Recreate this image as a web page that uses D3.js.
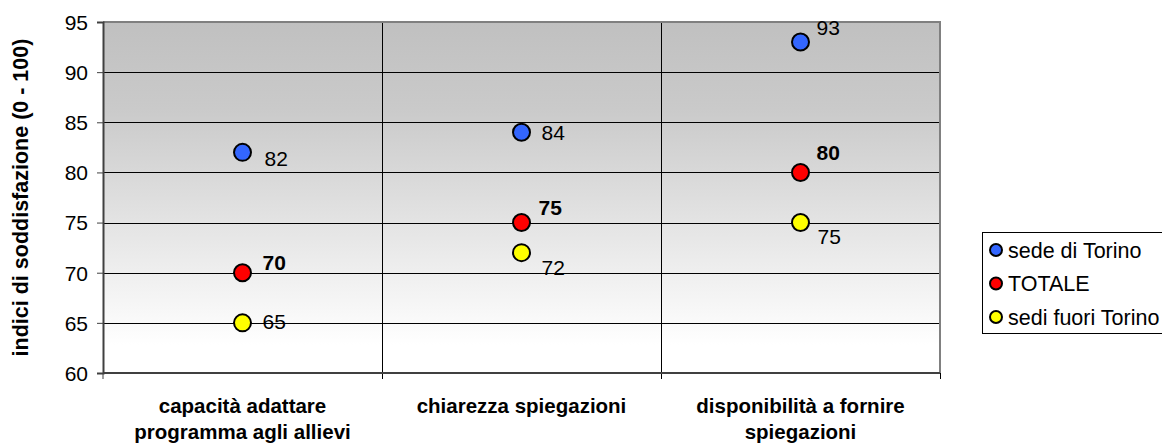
<!DOCTYPE html>
<html>
<head>
<meta charset="utf-8">
<script src="https://cdn.jsdelivr.net/npm/d3@7"></script>
<style>
  body { margin: 0; background: #fff; }
  text { font-family: "Liberation Sans", Arial, sans-serif; }
</style>
</head>
<body>
<div class="chart"></div>
<script>
// DATA ------------------------------
let categories = [
  ["capacità adattare", "programma agli allievi"],
  ["chiarezza spiegazioni"],
  ["disponibilità a fornire", "spiegazioni"]
];
let seriesNames = ["sede di Torino", "TOTALE", "sedi fuori Torino"];
let sedeTorino = [82, 84, 93];
let totale = [70, 75, 80];
let sediFuori = [65, 72, 75];
let yTicks = [60, 65, 70, 75, 80, 85, 90, 95];

let seriesColors = ["#3366ff", "#ff0000", "#ffff00"];
// label placement per series/category (dx, dy of baseline) like the excel sheet
let labelOffsets = [
  [[22, 14], [20, 8], [16, -7]],
  [[20, -3], [17, -8], [16, -12]],
  [[20, 6], [20, 22], [17, 21]]
];

let series = [sedeTorino, totale, sediFuori].map(function(vals, i) {
  return { name: seriesNames[i], color: seriesColors[i], values: vals, bold: i == 1 };
});

// CHART INIT ------------------------------
let margin = { top: 22, right: 222, bottom: 70, left: 103 },
  width = 1162 - margin.left - margin.right,
  height = 443 - margin.top - margin.bottom;

let root = d3.select(".chart")
  .append("svg")
  .attr("width", 1162)
  .attr("height", 443);

let svg = root.append("g")
  .attr("transform", "translate(" + margin.left + "," + margin.top + ")");

let grad = root.append("defs").append("linearGradient")
  .attr("id", "bg")
  .attr("x1", 0).attr("y1", 0).attr("x2", 0).attr("y2", 1);
grad.append("stop").attr("offset", "0%").attr("stop-color", "#c0c0c0");
grad.append("stop").attr("offset", "25%").attr("stop-color", "#cacaca");
grad.append("stop").attr("offset", "92%").attr("stop-color", "#ffffff");

let x = d3.scaleBand()
  .domain(d3.range(categories.length))
  .range([0, width])
  .padding(0);

let y = d3.scaleLinear()
  .domain([60, 95])
  .range([height, 0]);

// plot area
svg.append("rect")
  .attr("width", width)
  .attr("height", height)
  .attr("fill", "url(#bg)");

// gridlines
svg.append("g")
  .call(d3.axisLeft(y).tickValues(yTicks.slice(1, -1)).tickSize(-width).tickFormat(""))
  .call(g => g.select(".domain").remove())
  .selectAll("line")
  .attr("stroke", "#000")
  .attr("shape-rendering", "crispEdges");

// category dividers (also the x ticks)
svg.append("g")
  .selectAll("line")
  .data(d3.range(1, categories.length + 1))
  .join("line")
  .attr("x1", d => x(d - 1) + x.bandwidth())
  .attr("x2", d => x(d - 1) + x.bandwidth())
  .attr("y1", 0)
  .attr("y2", height + 6)
  .attr("stroke", "#000")
  .attr("shape-rendering", "crispEdges");

// top & right border
svg.append("path")
  .attr("d", "M0,0H" + width + "V" + height)
  .attr("fill", "none")
  .attr("stroke", "#808080")
  .attr("stroke-width", 2);

// y axis
let yAxisGroup = svg.append("g")
  .call(d3.axisLeft(y).tickValues(yTicks).tickSize(6).tickPadding(9))
  .call(g => g.select(".domain").attr("stroke", "#404040").attr("stroke-width", 2));
yAxisGroup.selectAll("line").attr("stroke", "#404040");
yAxisGroup.selectAll("text")
  .attr("font-family", "Liberation Sans, Arial, sans-serif")
  .attr("font-size", 21)
  .attr("fill", "#000")
  .attr("dy", "0.35em");

// x axis line
svg.append("line")
  .attr("x1", 0).attr("x2", width)
  .attr("y1", height).attr("y2", height)
  .attr("stroke", "#404040")
  .attr("stroke-width", 2);
svg.append("line")
  .attr("x1", 0).attr("x2", 0)
  .attr("y1", height).attr("y2", height + 6)
  .attr("stroke", "#404040");

// category labels
let catLabels = svg.append("g")
  .selectAll("text")
  .data(categories)
  .join("text")
  .attr("text-anchor", "middle")
  .attr("font-weight", "bold")
  .attr("font-size", 20.5)
  .attr("transform", (d, i) => "translate(" + (x(i) + x.bandwidth() / 2) + "," + (height + 40) + ")");
catLabels.selectAll("tspan")
  .data(d => d)
  .join("tspan")
  .attr("x", 0)
  .attr("y", (d, i) => i * 26)
  .text(d => d);

// y axis title
root.append("text")
  .attr("transform", "translate(28," + (margin.top + height / 2) + ") rotate(-90)")
  .attr("text-anchor", "middle")
  .attr("font-weight", "bold")
  .attr("font-size", 21.5)
  .text("indici di soddisfazione (0 - 100)");

// points + labels
series.forEach(function(s, si) {
  let g = svg.append("g");
  g.selectAll("circle")
    .data(s.values)
    .join("circle")
    .attr("cx", (d, i) => x(i) + x.bandwidth() / 2)
    .attr("cy", d => y(d))
    .attr("r", 8.5)
    .attr("fill", s.color)
    .attr("stroke", "#000")
    .attr("stroke-width", 2);
  g.selectAll("text")
    .data(s.values)
    .join("text")
    .attr("x", (d, i) => x(i) + x.bandwidth() / 2 + labelOffsets[si][i][0])
    .attr("y", (d, i) => y(d) + labelOffsets[si][i][1])
    .attr("font-size", 21)
    .attr("font-weight", s.bold ? "bold" : "normal")
    .text(d => d);
});

// legend
let legend = root.append("g").attr("transform", "translate(982,232)");
legend.append("rect")
  .attr("x", 0.5).attr("y", 0.5)
  .attr("width", 185).attr("height", 101)
  .attr("fill", "#fff")
  .attr("stroke", "#000");
let item = legend.selectAll(".item")
  .data(series)
  .join("g")
  .attr("class", "item")
  .attr("transform", (d, i) => "translate(14," + (18 + i * 33.5) + ")");
item.append("circle")
  .attr("r", 6)
  .attr("fill", d => d.color)
  .attr("stroke", "#000")
  .attr("stroke-width", 2);
item.append("text")
  .attr("x", 12)
  .attr("dy", "0.35em")
  .attr("font-size", 21.5)
  .text(d => d.name);
</script>
</body>
</html>
